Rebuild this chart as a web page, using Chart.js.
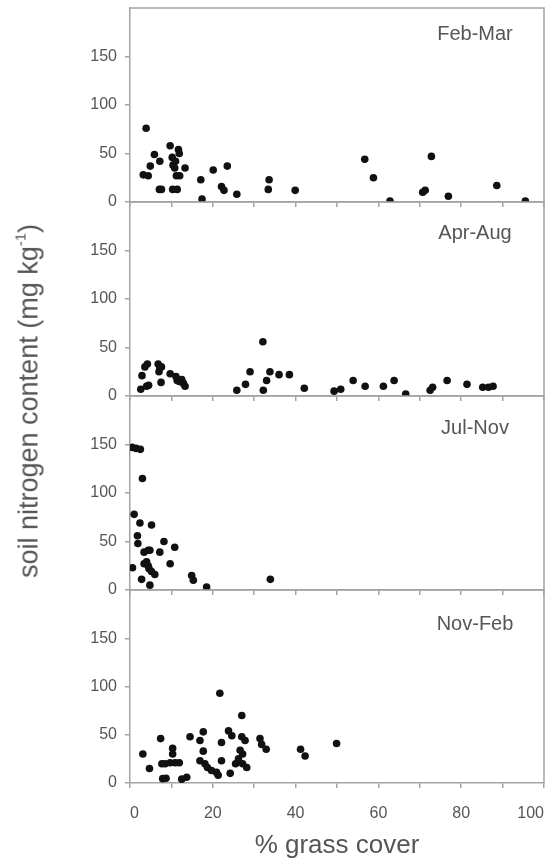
<!DOCTYPE html>
<html>
<head>
<meta charset="utf-8">
<script src="https://cdn.jsdelivr.net/npm/chart.js@4/dist/chart.umd.min.js"></script>
<style>
  html, body { margin: 0; padding: 0; background: #fff; }
  #wrap { position: relative; width: 551px; height: 862px; overflow: hidden; background: #fff; }
  #wrap canvas { position: absolute; left: 0; }
  #ytitle {
    position: absolute; left: 29px; top: 401px;
    transform: translate(-50%, -50%) rotate(-90deg);
    white-space: nowrap; font: 27px "Liberation Sans", Arial, sans-serif; color: #555;
  }
  #ytitle sup { font-size: 0.55em; line-height: 0; vertical-align: 0.8em; }
</style>
</head>
<body>
<div id="wrap">
  <canvas id="p0"></canvas>
  <canvas id="p1"></canvas>
  <canvas id="p2"></canvas>
  <canvas id="p3"></canvas>
  <div id="ytitle">soil nitrogen content (mg kg<sup>-1</sup>)</div>
</div>
<script>
// Sampling periods, one panel each
const periods = ['Feb-Mar', 'Apr-Aug', 'Jul-Nov', 'Nov-Feb'];

// % grass cover (x) and soil nitrogen, mg/kg (y) per period
const febMarCover = [3.9, 3.2, 4.4, 4.9, 5.9, 7.2, 7.1, 7.6, 9.7, 10.3, 11.4, 10.2, 10.4, 10.8, 11.0, 11.7, 11.9, 11.2, 12.0, 13.3, 17.1, 17.4, 20.1, 22.1, 22.7, 23.5, 25.8, 33.6, 33.4, 39.9, 56.7, 58.8, 62.8, 70.7, 71.3, 72.8, 76.9, 88.6, 95.5];
const febMarN     = [76, 28, 27, 37, 49, 42, 13, 13, 58, 13, 13, 46, 38, 35, 42, 54, 50, 27, 27, 35, 23, 3, 33, 16, 12, 37, 8, 23, 13, 12, 44, 25, 1, 10, 12, 47, 6, 17, 1];

const aprAugCover = [2.6, 4.0, 4.5, 2.9, 3.6, 4.2, 6.8, 7.2, 7.0, 7.6, 7.5, 9.7, 11.1, 11.4, 11.9, 12.5, 13.3, 12.9, 25.8, 27.9, 29.0, 32.1, 32.2, 33.0, 33.8, 36.0, 38.5, 42.1, 49.3, 50.9, 53.9, 56.8, 61.2, 63.8, 66.6, 72.5, 73.1, 76.6, 81.4, 85.2, 86.6, 87.7];
const aprAugN     = [7, 10, 11, 21, 30, 33, 33, 29, 25, 30, 14, 23, 20, 16, 15, 17, 10, 13, 6, 12, 25, 56, 6, 16, 25, 22, 22, 8, 5, 7, 16, 10, 10, 16, 2, 6, 9, 16, 12, 9, 9, 10];

const julNovCover = [0.5, 1.5, 2.5, 3.0, 1.0, 2.4, 1.8, 1.9, 0.6, 2.8, 4.8, 5.2, 3.4, 4.4, 4.8, 3.4, 4.0, 4.4, 4.6, 5.2, 6.0, 7.2, 8.2, 9.7, 10.8, 14.9, 15.3, 18.5, 33.9];
const julNovN     = [147, 146, 145, 115, 78, 69, 56, 48, 23, 11, 5, 67, 39, 41, 41, 27, 29, 25, 22, 19, 16, 39, 50, 27, 44, 15, 10, 3, 11];

const novFebCover = [3.1, 4.7, 7.4, 7.7, 8.5, 7.9, 8.7, 10.3, 10.3, 9.7, 10.9, 11.9, 12.5, 13.7, 14.5, 16.9, 17.7, 17.7, 16.9, 18.1, 18.7, 19.7, 20.9, 21.3, 21.7, 22.1, 22.1, 23.8, 24.6, 24.2, 25.5, 26.2, 27.0, 27.0, 27.8, 26.6, 27.2, 27.2, 28.2, 31.4, 31.8, 32.9, 41.2, 42.3, 49.9];
const novFebN     = [30, 15, 46, 20, 20, 4.5, 5, 36, 30, 21, 21, 21, 4, 6, 48, 44, 53, 33, 23, 20, 16, 13, 11, 8, 93, 42, 23, 54, 49, 10, 20, 25, 70, 48, 44, 34, 30, 20, 16, 46, 40, 35, 35, 28, 41];

// Axis ticks
const xTickMarks  = [0, 10, 20, 30, 40, 50, 60, 70, 80, 90, 100];
const xTickLabels = [0, 20, 40, 60, 80, 100];
const yTickValues = [0, 50, 100, 150];

const coverSeries = [febMarCover, aprAugCover, julNovCover, novFebCover];
const nSeries     = [febMarN, aprAugN, julNovN, novFebN];

// Layout: panel edges on the page (top of first to bottom of last)
const panelEdges = [8, 202, 396, 590, 783];
const labelDy = [26, 31, 32, 34];
const PAD_TOP = 10;
const AXIS_W = 130;
const BOTTOM_AXIS_H = 79;
const SMALL_AXIS_H = 10;

const FONT = '"Liberation Sans", Arial, Helvetica, sans-serif';
const TEXT = '#555';
const AXIS = '#a4a4a4';

Chart.defaults.font.family = FONT;

// Closes the frame (top and right edges) and writes the period name
const framePlugin = {
  id: 'panelFrame',
  afterDraw(chart, args, opts) {
    const { ctx, chartArea: a } = chart;
    ctx.save();
    ctx.strokeStyle = AXIS;
    ctx.lineWidth = 1.5;
    ctx.beginPath();
    ctx.moveTo(a.left, a.top);
    ctx.lineTo(a.right, a.top);
    ctx.lineTo(a.right, a.bottom);
    ctx.stroke();
    ctx.fillStyle = TEXT;
    ctx.font = '20px ' + FONT;
    ctx.textAlign = 'center';
    ctx.textBaseline = 'middle';
    ctx.fillText(opts.label, a.right - 69, a.top + opts.dy);
    ctx.restore();
  }
};

periods.forEach((name, i) => {
  const isBottom = i === periods.length - 1;
  const canvas = document.getElementById('p' + i);
  const h = panelEdges[i + 1] - panelEdges[i];
  canvas.width = 551;
  canvas.height = PAD_TOP + h + (isBottom ? BOTTOM_AXIS_H : SMALL_AXIS_H);
  canvas.style.top = (panelEdges[i] - PAD_TOP) + 'px';

  const points = coverSeries[i].map((x, k) => ({ x: x, y: nSeries[i][k] }));

  new Chart(canvas, {
    type: 'scatter',
    data: {
      datasets: [{
        label: name,
        data: points,
        backgroundColor: '#111',
        borderWidth: 0,
        pointRadius: 3.8,
        pointHoverRadius: 3.8
      }]
    },
    options: {
      responsive: false,
      animation: false,
      events: [],
      layout: { padding: { top: PAD_TOP, right: 7, bottom: 0, left: 0 } },
      plugins: {
        legend: { display: false },
        tooltip: { enabled: false },
        panelFrame: { label: name, dy: labelDy[i] }
      },
      scales: {
        x: {
          type: 'linear',
          min: 0,
          max: 100,
          afterBuildTicks: s => { s.ticks = xTickMarks.map(v => ({ value: v })); },
          afterFit: s => {
            s.height = isBottom ? BOTTOM_AXIS_H : SMALL_AXIS_H;
            s.paddingLeft = 0;
            s.paddingRight = 0;
          },
          ticks: {
            display: isBottom,
            autoSkip: false,
            maxRotation: 0,
            align: 'inner',
            padding: 16,
            color: TEXT,
            font: { size: 16 },
            callback: v => xTickLabels.includes(v) ? String(v) : ''
          },
          grid: { drawOnChartArea: false, drawTicks: true, tickLength: 5, color: AXIS, lineWidth: 1.5 },
          border: { display: true, color: AXIS, width: 1.5 },
          title: {
            display: isBottom,
            text: '% grass cover',
            color: TEXT,
            font: { size: 26 },
            padding: { top: 0, bottom: 1 }
          }
        },
        y: {
          min: 0,
          max: 200,
          afterBuildTicks: s => { s.ticks = yTickValues.map(v => ({ value: v })); },
          afterFit: s => {
            s.width = AXIS_W;
            s.paddingTop = 0;
            s.paddingBottom = 0;
          },
          ticks: { color: TEXT, font: { size: 16 }, padding: 8 },
          grid: { drawOnChartArea: false, drawTicks: true, tickLength: 5, color: AXIS, lineWidth: 1.5 },
          border: { display: true, color: AXIS, width: 1.5 }
        }
      }
    },
    plugins: [framePlugin]
  });
});
</script>
</body>
</html>
